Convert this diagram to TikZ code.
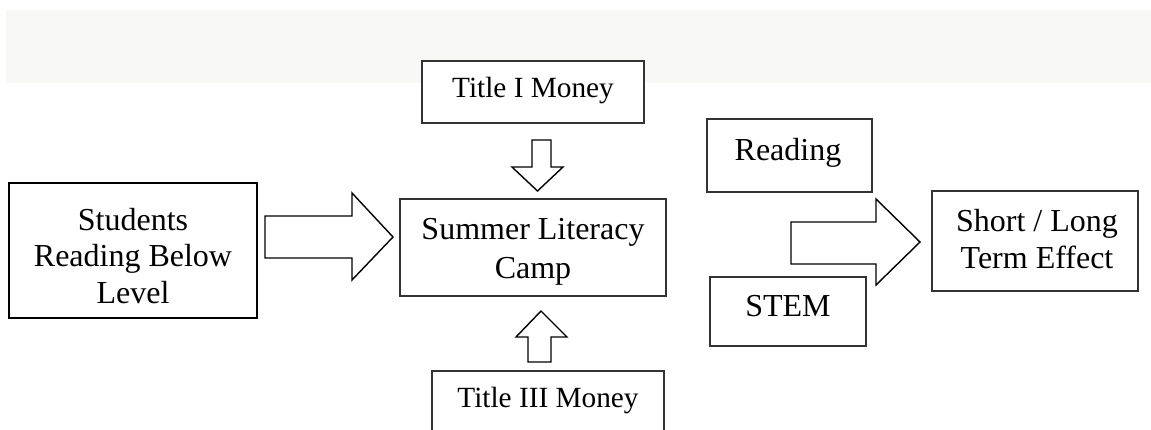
\documentclass[tikz,border=0pt]{standalone}
\usepackage{fontspec}
\setmainfont{Liberation Serif}
\definecolor{bandgray}{HTML}{F8F8F6}
\definecolor{boxline}{HTML}{333333}
\begin{document}
\begin{tikzpicture}[x=1pt,y=-1pt,
  box/.style={draw=boxline, line width=1.1pt, fill=white, inner sep=0pt},
  thickbox/.style={box, draw=black, line width=2pt},
  txt/.style={font=\fontsize{32}{36.5}\selectfont, align=center, inner sep=0pt, anchor=base},
  widetxt/.style={txt, font=\fontsize{32}{39}\selectfont},
  smalltxt/.style={txt, font=\fontsize{29.3}{34}\selectfont},
  blockarrow/.style={draw=black, line width=1.4pt, fill=white, line join=miter}]
\clip (0,0) rectangle (1151,429);
\fill[white] (0,0) rectangle (1151,429);
\fill[bandgray] (6,10) rectangle (1151,83);
% boxes
\node[thickbox, minimum width=248pt, minimum height=135pt] (students) at (133,250.5) {};
\node[box, minimum width=222pt, minimum height=62pt] (title1) at (533,92) {};
\node[box, minimum width=266pt, minimum height=97pt] (summer) at (533,247.5) {};
\node[box, minimum width=232pt, minimum height=88pt] (title3) at (548,415) {};
\node[box, minimum width=165pt, minimum height=73pt] (reading) at (789.5,155.5) {};
\node[box, minimum width=156pt, minimum height=69pt] (stem) at (788,311.5) {};
\node[box, minimum width=206pt, minimum height=100pt] (effect) at (1035,241) {};
% texts (base anchor = baseline of the last line)
\node[txt] (tstudents) at (133,303) {Students\\Reading Below\\Level};
\node[smalltxt] (ttitle1) at (533,97) {Title I Money};
\node[widetxt] (tsummer) at (533,278) {Summer Literacy\\Camp};
\node[smalltxt] (ttitle3) at (548,407) {Title III Money};
\node[txt] (treading) at (788,160) {Reading};
\node[txt] (tstem) at (788,316) {STEM};
\node[txt] (teffect) at (1037,268) {Short / Long\\Term Effect};
% block arrows
\draw[blockarrow] (265,216) -- (352,216) -- (352,193) -- (393,237) -- (352,280) -- (352,258) -- (265,258) -- cycle;
\draw[blockarrow] (532,140) -- (551,140) -- (551,167) -- (563,167) -- (537.5,191) -- (512,167) -- (532,167) -- cycle;
\draw[blockarrow] (528,362) -- (528,337) -- (516,337) -- (541,311) -- (567,337) -- (551,337) -- (551,362) -- cycle;
\draw[blockarrow] (791,222) -- (876,222) -- (876,199) -- (920,242) -- (876,285) -- (876,264) -- (791,264) -- cycle;
\end{tikzpicture}
\end{document}
